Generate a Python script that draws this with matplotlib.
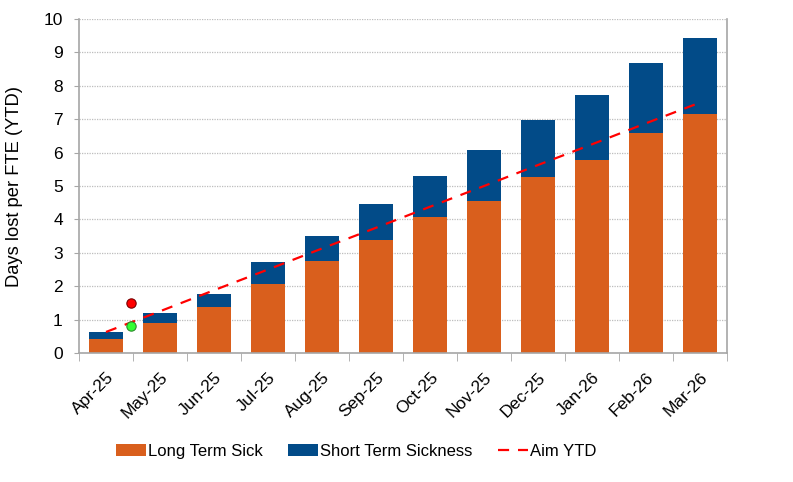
import matplotlib

matplotlib.use("Agg")
import matplotlib.pyplot as plt
import numpy as np
from matplotlib.ticker import FixedLocator

plt.rcParams["font.family"] = ["Liberation Sans", "DejaVu Sans"]

months = ["Apr-25", "May-25", "Jun-25", "Jul-25", "Aug-25", "Sep-25",
          "Oct-25", "Nov-25", "Dec-25", "Jan-26", "Feb-26", "Mar-26"]
long_term = [0.42, 0.90, 1.38, 2.07, 2.75, 3.38, 4.07, 4.55, 5.27, 5.78, 6.60, 7.16]
total = [0.63, 1.20, 1.77, 2.72, 3.50, 4.46, 5.30, 6.08, 6.98, 7.72, 8.68, 9.43]
short_term = [t - l for t, l in zip(total, long_term)]
aim_ytd = [0.63, 1.25, 1.88, 2.50, 3.13, 3.75, 4.38, 5.00, 5.63, 6.25, 6.88, 7.50]
marker_x = 0.47
red_point = 1.5
green_point = 0.81

ORANGE = "#D95F1D"
BLUE = "#024B88"
GREY = "#A6A6A6"

fig = plt.figure(figsize=(7.93, 4.82), dpi=100)
ax = fig.add_axes([0.0996, 0.2676, 0.8174, 0.693])

x = np.arange(len(months))
ax.bar(x, long_term, width=0.62, color=ORANGE, label="Long Term Sick", zorder=2)
ax.bar(x, short_term, width=0.62, bottom=long_term, color=BLUE,
       label="Short Term Sickness", zorder=2)
ax.plot(x, aim_ytd, color="#FF0000", linestyle=(0, (5, 4)), linewidth=1.6,
        label="Aim YTD", zorder=3)
ax.scatter([marker_x], [red_point], s=45, color="#FF0000", edgecolors="#7A0000",
           linewidths=0.8, zorder=4)
ax.scatter([marker_x], [green_point], s=45, color="#33FF33", edgecolors="#2E8B2E",
           linewidths=0.8, zorder=4)

ax.set_xlim(-0.5, len(months) - 0.5)
ax.set_ylim(0, 10)
ax.set_yticks(range(0, 11))
ax.tick_params(axis="y", labelsize=12.5, length=3.6, color=GREY, pad=8)
ax.set_xticks(x)
ax.set_xticklabels(months, rotation=45, ha="right", rotation_mode="anchor", fontsize=12.5)
ax.tick_params(axis="x", which="major", length=0, pad=12)
ax.xaxis.set_minor_locator(FixedLocator(np.arange(-0.5, len(months), 1)))
ax.tick_params(axis="x", which="minor", length=6, color=GREY)
ax.set_ylabel("Days lost per FTE (YTD)", fontsize=13.2, labelpad=15)

ax.yaxis.grid(True, color="#BDBDBD", linestyle=(0, (1, 1)), linewidth=0.9, zorder=0)
ax.set_axisbelow(True)
for side in ["left", "bottom", "right"]:
    ax.spines[side].set_color(GREY)
    ax.spines[side].set_linewidth(1.2)
ax.spines["top"].set_visible(False)

handles, labels = ax.get_legend_handles_labels()
order = [1, 2, 0]
fig.legend([handles[i] for i in order], [labels[i] for i in order],
           loc="center", bbox_to_anchor=(0.449, 0.064), ncol=3, frameon=False,
           fontsize=12, handlelength=1.8, handletextpad=0.15, columnspacing=1.5)

fig.savefig("out.png", dpi=100, facecolor="white")
